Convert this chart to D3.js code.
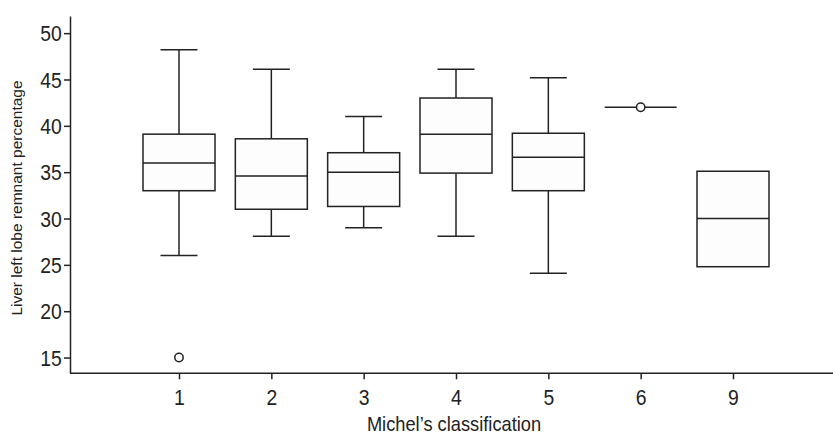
<!DOCTYPE html>
<html>
<head>
  <meta charset="UTF-8">
  <title>Liver left lobe remnant by Michel's classification</title>
  <style>
    body { margin: 0; background: #fff; }
    svg { display: block; }
    text { font-family: "Liberation Sans", Arial, sans-serif; fill: #222; }
  </style>
</head>
<body>
  <svg width="833" height="435"></svg>

  <script src="https://d3js.org/d3.v7.min.js"></script>
  <script>
    // Box plot values
    const categories  = ['1', '2', '3', '4', '5', '6', '9'];
    const whiskerHigh = [48.2, 46.1, 41.0, 46.1, 45.2, null, null];
    const q3          = [39.1, 38.6, 37.1, 43.0, 39.2, 42.0, 35.1];
    const medians     = [36.0, 34.6, 35.0, 39.1, 36.6, 42.0, 30.0];
    const q1          = [33.0, 31.0, 31.3, 34.9, 33.0, 42.0, 24.8];
    const whiskerLow  = [26.0, 28.1, 29.0, 28.1, 24.1, null, null];
    const outliers    = [{ cat: '1', value: 15 }, { cat: '6', value: 42 }];
    const yTicks      = [15, 20, 25, 30, 35, 40, 45, 50];

    const ink = '#222';
    const plotLeft = 70, plotRight = 833, plotTop = 16, plotBottom = 373.3;
    const boxWidth = 72;
    const capWidth = 37;
    const squeeze = 0.9;   // the original type is a condensed face

    const svg = d3.select('svg');

    const x = d3.scalePoint()
      .domain(categories)
      .range([179, 733]);

    const y = d3.scaleLinear()
      .domain([13.3, 51.85])
      .range([plotBottom, plotTop]);

    // y axis
    const yAxis = svg.append('g')
      .attr('transform', `translate(${plotLeft},0)`)
      .attr('font-family', null)
      .call(d3.axisLeft(y).tickValues(yTicks).tickSize(6).tickSizeOuter(0));
    yAxis.select('.domain').attr('stroke', ink).attr('stroke-width', 1.5);
    yAxis.selectAll('.tick line').attr('stroke', ink).attr('stroke-width', 1.5);
    yAxis.selectAll('.tick text')
      .attr('font-size', 21.5)
      .attr('x', -8.3 / squeeze)
      .attr('dy', '0.36em')
      .attr('transform', `scale(${squeeze},1)`)
      .style('fill', ink);

    // x axis
    const xAxis = svg.append('g')
      .attr('transform', `translate(0,${plotBottom})`)
      .attr('font-family', null)
      .call(d3.axisBottom(x).tickSize(6).tickSizeOuter(0));
    xAxis.select('.domain').attr('d', `M${plotLeft},0H${plotRight}`).attr('stroke', ink).attr('stroke-width', 1.5);
    xAxis.selectAll('.tick line').attr('stroke', ink).attr('stroke-width', 1.5);
    xAxis.selectAll('.tick text')
      .attr('font-size', 21.5)
      .attr('y', 31.5)
      .attr('dy', null)
      .attr('transform', `scale(${squeeze},1)`)
      .style('fill', ink);

    // Axis titles
    svg.append('text')
      .attr('transform', `translate(454,431) scale(0.87,1)`)
      .attr('text-anchor', 'middle')
      .attr('font-size', 21)
      .text('Michel\u2019s classification');

    svg.append('text')
      .attr('transform', 'translate(22,198) rotate(-90)')
      .attr('text-anchor', 'middle')
      .attr('font-size', 15.5)
      .text('Liver left lobe remnant percentage');

    // Boxes
    const rows = categories.map((c, i) => ({
      cat: c, hi: whiskerHigh[i], q3: q3[i], med: medians[i], q1: q1[i], lo: whiskerLow[i]
    }));

    const g = svg.append('g')
      .attr('stroke', ink)
      .attr('stroke-width', 1.5)
      .attr('fill', 'none');

    rows.forEach(d => {
      const cx = x(d.cat);
      if (d.hi != null) {
        g.append('line').attr('x1', cx).attr('x2', cx).attr('y1', y(d.hi)).attr('y2', y(d.q3));
        g.append('line').attr('x1', cx - capWidth / 2).attr('x2', cx + capWidth / 2).attr('y1', y(d.hi)).attr('y2', y(d.hi));
      }
      if (d.lo != null) {
        g.append('line').attr('x1', cx).attr('x2', cx).attr('y1', y(d.q1)).attr('y2', y(d.lo));
        g.append('line').attr('x1', cx - capWidth / 2).attr('x2', cx + capWidth / 2).attr('y1', y(d.lo)).attr('y2', y(d.lo));
      }
      if (d.q3 > d.q1) {
        g.append('rect')
          .attr('x', cx - boxWidth / 2)
          .attr('y', y(d.q3))
          .attr('width', boxWidth)
          .attr('height', y(d.q1) - y(d.q3))
          .attr('fill', '#fdfdfd');
      }
      g.append('line')
        .attr('x1', cx - boxWidth / 2).attr('x2', cx + boxWidth / 2)
        .attr('y1', y(d.med)).attr('y2', y(d.med));
    });

    // Outliers
    g.selectAll('circle')
      .data(outliers)
      .join('circle')
      .attr('cx', d => x(d.cat))
      .attr('cy', d => y(d.value))
      .attr('r', 4.2)
      .attr('fill', '#fff');
  </script>
</body>
</html>
